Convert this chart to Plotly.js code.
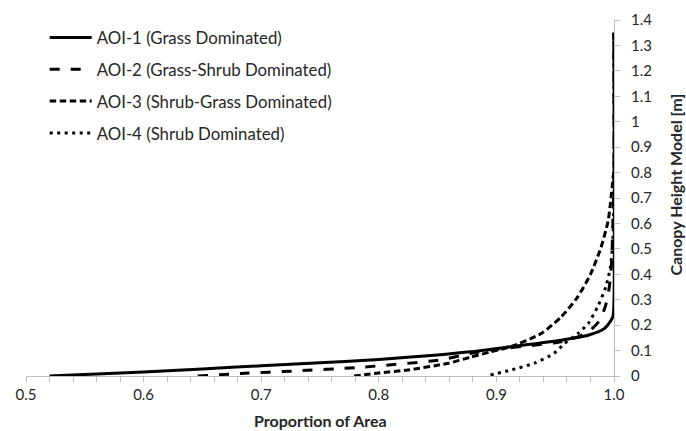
<!DOCTYPE html>
<html>
<head>
<meta charset="utf-8">
<script src="https://cdn.plot.ly/plotly-3.0.1.min.js"></script>
<style>html,body{margin:0;padding:0;background:#fff;}#chart{width:686px;height:431px;}</style>
</head>
<body>
<div id="chart"></div>
<script>
var seriesNames = ["AOI-1 (Grass Dominated)", "AOI-2 (Grass-Shrub Dominated)", "AOI-3 (Shrub-Grass Dominated)", "AOI-4 (Shrub Dominated)"];

// AOI-1 (solid): proportion of area vs canopy height
var aoi1Area   = [0.52, 0.55, 0.60, 0.65, 0.70, 0.75, 0.80, 0.85, 0.878, 0.912, 0.955, 0.978, 0.992, 0.999, 1.0, 1.0];
var aoi1Height = [0.0, 0.006, 0.016, 0.028, 0.040, 0.052, 0.065, 0.083, 0.095, 0.115, 0.141, 0.160, 0.187, 0.232, 0.30, 1.35];

// AOI-2 (long dash)
var aoi2Area   = [0.646, 0.683, 0.73, 0.781, 0.852, 0.878, 0.90, 0.93, 0.955, 0.97, 0.98, 0.988, 0.993, 0.996, 0.998, 0.999, 1.0, 1.0];
var aoi2Height = [0.0, 0.010, 0.020, 0.033, 0.063, 0.089, 0.105, 0.120, 0.135, 0.155, 0.180, 0.220, 0.280, 0.350, 0.450, 0.600, 0.80, 1.35];

// AOI-3 (short dash)
var aoi3Area   = [0.779, 0.80, 0.825, 0.859, 0.878, 0.895, 0.912, 0.938, 0.955, 0.969, 0.980, 0.989, 0.995, 0.997, 0.999, 1.0, 1.0];
var aoi3Height = [0.0, 0.012, 0.024, 0.050, 0.074, 0.095, 0.115, 0.167, 0.232, 0.310, 0.400, 0.506, 0.610, 0.680, 0.770, 0.82, 1.35];

// AOI-4 (dotted)
var aoi4Area   = [0.895, 0.912, 0.932, 0.949, 0.958, 0.970, 0.978, 0.986, 0.993, 0.997, 0.999, 1.0, 1.0];
var aoi4Height = [0.004, 0.023, 0.050, 0.089, 0.128, 0.170, 0.206, 0.271, 0.350, 0.430, 0.530, 0.70, 1.35];

// Tick labels
var xTickVals = [0.5, 0.6, 0.7, 0.8, 0.9, 1.0];
var xTickText = ["0.5", "0.6", "0.7", "0.8", "0.9", "1.0"];
var yTickVals = [0, 0.1, 0.2, 0.3, 0.4, 0.5, 0.6, 0.7, 0.8, 0.9, 1.0, 1.1, 1.2, 1.3, 1.4];
var yTickText = ["0", "0.1", "0.2", "0.3", "0.4", "0.5", "0.6", "0.7", "0.8", "0.9", "1", "1.1", "1.2", "1.3", "1.4"];

var xTitle = "Proportion of Area";
var yTitle = "Canopy Height Model [m]";

var FONT = "Lato, 'Open Sans', sans-serif";
var TXT = "#262626";
var AX = "#bfbfbf";

var areas = [aoi1Area, aoi2Area, aoi3Area, aoi4Area];
var heights = [aoi1Height, aoi2Height, aoi3Height, aoi4Height];
var dashes = ["solid", "10px,11px", "6.5px,3.5px", "3px,4.5px"];

var traces = areas.map(function (a, i) {
  return {
    x: a, y: heights[i], type: "scatter", mode: "lines",
    name: seriesNames[i], legendgroup: "g" + i,
    line: {color: "#000", width: 3, dash: dashes[i], shape: "spline", smoothing: 0.6},
    hoverinfo: "skip"
  };
});

var layout = {
  width: 686, height: 431,
  margin: {l: 26, r: 72, t: 20, b: 55, pad: 0},
  paper_bgcolor: "#fff", plot_bgcolor: "#fff",
  font: {family: FONT, color: TXT, size: 15},
  showlegend: true,
  legend: {
    x: 0.0318, y: 1.0, xanchor: "left", yanchor: "top",
    font: {family: FONT, size: 16.8, color: TXT},
    bgcolor: "rgba(0,0,0,0)", borderwidth: 0,
    traceorder: "grouped", tracegroupgap: 7, itemwidth: 42
  },
  xaxis: {
    range: [0.5, 1.0], tickvals: xTickVals, ticktext: xTickText,
    ticks: "outside", ticklen: 5, tickwidth: 1, tickcolor: AX,
    showline: true, linecolor: AX, linewidth: 1,
    showgrid: false, zeroline: false,
    tickfont: {family: FONT, size: 15, color: TXT},
    minor: {dtick: 0.02, tick0: 0.5, ticks: "outside", ticklen: 5, tickcolor: AX, showgrid: false}
  },
  yaxis: {
    range: [0, 1.4], side: "right", tickvals: yTickVals, ticktext: yTickText,
    ticks: "outside", ticklen: 5, tickwidth: 1, tickcolor: AX,
    showline: true, linecolor: AX, linewidth: 1,
    showgrid: false, zeroline: false, ticklabelstandoff: 8,
    tickfont: {family: FONT, size: 15, color: TXT}
  },
  annotations: [
    {text: xTitle, xref: "paper", yref: "paper", x: 0.5, y: -0.126, xanchor: "center", yanchor: "middle",
     showarrow: false, font: {family: FONT, size: 16, color: TXT, weight: 700}},
    {text: yTitle, xref: "paper", yref: "paper", x: 1.105, y: 0.537, xanchor: "center", yanchor: "middle",
     textangle: -90, showarrow: false, font: {family: FONT, size: 16, color: TXT, weight: 700}}
  ]
};

Plotly.newPlot("chart", traces, layout, {displayModeBar: false, staticPlot: true});
</script>
</body>
</html>
